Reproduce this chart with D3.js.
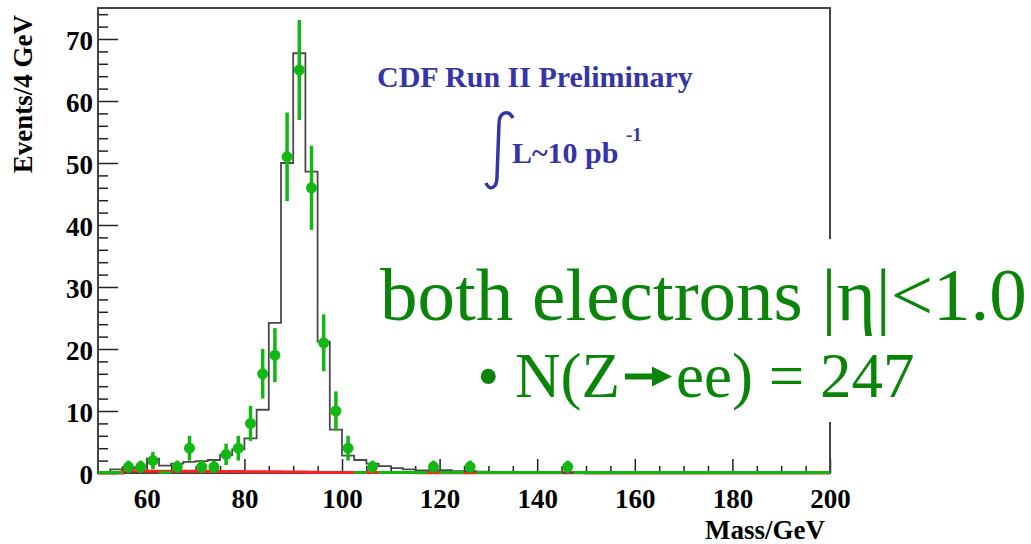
<!DOCTYPE html>
<html>
<head>
<meta charset="utf-8">
<script src="https://cdn.jsdelivr.net/npm/d3@7"></script>
<style>
  body { margin: 0; background: #fff; }
  svg { display: block; }
  .tick text { font-family: "Liberation Serif", "DejaVu Serif", serif; font-weight: bold; font-size: 27px; fill: #000; }
</style>
</head>
<body>
<div id="chart"></div>
<script>
// 2.5 GeV bins from 50 to 200
var binLow = 50, binHigh = 200, binWidth = 2.5;

// data counts per bin (green points)
var dataCounts = [0, 0, 1, 1, 2, 0, 1, 4, 1, 1,
                  3, 4, 8, 16, 19, 51, 65, 46, 21, 10,
                  4, 0, 1, 0, 0, 0, 0, 1, 0, 0,
                  1, 0, 0, 0, 0, 0, 0, 0, 1, 0,
                  0, 0, 0, 0, 0, 0, 0, 0, 0, 0,
                  0, 0, 0, 0, 0, 0, 0, 0, 0, 0];

// simulation (black step histogram)
var mcCounts = [0, 0.6, 0.8, 0.9, 2.3, 1.2, 1.5, 1.8, 1.9, 2.1,
                2.9, 3.8, 5.6, 10.2, 24.2, 50, 67.7, 48.6, 21.2, 7.0,
                2.8, 2.1, 1.5, 1.1, 0.8, 0.6, 0.4, 0.4, 0.45, 0.3,
                0.3, 0.2, 0.15, 0.12, 0.1, 0.1, 0.1, 0.08, 0.08, 0.07,
                0.06, 0.05, 0.05, 0.05, 0.04, 0.04, 0.04, 0.03, 0.03, 0.03,
                0.03, 0.02, 0.02, 0.02, 0.02, 0.02, 0.01, 0.01, 0.01, 0.01];

// background (red)
var bgCounts = [0, 0, 0.35, 0.35, 0.3, 0.3, 0.3, 0.3, 0.28, 0.26,
                0.25, 0.25, 0.22, 0.2, 0.2, 0.18, 0.15, 0.12, 0.1, 0.1,
                0.1, 0.1, 0.08, 0.08, 0.07, 0.07, 0.06, 0.06, 0.06, 0.05,
                0.05, 0.05, 0.05, 0.05, 0.04, 0.04, 0.04, 0.04, 0.04, 0.03,
                0, 0, 0, 0, 0, 0, 0, 0, 0, 0,
                0, 0, 0, 0, 0, 0, 0, 0, 0, 0];

var xMajor = [60, 80, 100, 120, 140, 160, 180, 200];
var yMajor = [0, 10, 20, 30, 40, 50, 60, 70];

var width = 1031, height = 544;
var padL = 98, padT = 8, padR = 830, padB = 473;   // frame corners

var edges = d3.range(binLow, binHigh, binWidth);

var x = d3.scaleLinear().domain([binLow, binHigh]).range([padL, padR]);
var y = d3.scaleLinear().domain([0, 75]).range([padB, padT]);

var svg = d3.select("#chart").append("svg")
    .attr("width", width)
    .attr("height", height);

var serif = "Liberation Serif, DejaVu Serif, serif";

// minor ticks first
var xMinor = d3.range(55, 200, 5).filter(function(v) { return v % 20 != 0; });
var yMinor = d3.range(2, 75, 2).filter(function(v) { return v % 10 != 0; });

svg.append("g")
    .attr("transform", "translate(0," + padB + ")")
    .call(d3.axisBottom(x).tickValues(xMinor).tickSizeInner(-7).tickSizeOuter(0).tickFormat(""))
    .call(function(g) { g.select(".domain").remove(); });

svg.append("g")
    .attr("transform", "translate(" + padL + ",0)")
    .call(d3.axisLeft(y).tickValues(yMinor).tickSizeInner(-10).tickSizeOuter(0).tickFormat(""))
    .call(function(g) { g.select(".domain").remove(); });

var xAxis = svg.append("g")
    .attr("transform", "translate(0," + padB + ")")
    .call(d3.axisBottom(x).tickValues(xMajor).tickSizeInner(-14).tickSizeOuter(0).tickPadding(16));
xAxis.select(".domain").remove();

var yAxis = svg.append("g")
    .attr("transform", "translate(" + padL + ",0)")
    .call(d3.axisLeft(y).tickValues(yMajor).tickSizeInner(-20).tickSizeOuter(0).tickPadding(5));
yAxis.select(".domain").remove();
yAxis.selectAll("text").attr("dy", "0.38em");

svg.selectAll(".tick line").attr("stroke", "#222").attr("stroke-width", 1.5);

// frame
svg.append("rect")
    .attr("x", padL).attr("y", padT)
    .attr("width", padR - padL).attr("height", padB - padT)
    .attr("fill", "none")
    .attr("stroke", "#444")
    .attr("stroke-width", 2);

// step histograms
function stepPoints(vals) {
    var pts = vals.map(function(v, i) { return [edges[i], v]; });
    pts.push([binHigh, vals[vals.length - 1]]);
    return pts;
}
var step = d3.line()
    .x(function(d) { return x(d[0]); })
    .y(function(d) { return y(d[1]); })
    .curve(d3.curveStepAfter);

svg.append("path")
    .attr("d", step(stepPoints(bgCounts)))
    .attr("fill", "none")
    .attr("stroke", "#ff2020")
    .attr("stroke-width", 3);

svg.append("path")
    .attr("d", step([[binLow, 0]].concat(stepPoints(mcCounts))))
    .attr("fill", "none")
    .attr("stroke", "#4a4a4a")
    .attr("stroke-width", 1.8);

// data points
var green = "#12b812";
var pts = dataCounts.map(function(c, i) { return { lo: edges[i], c: c }; });

svg.selectAll(".zero")
    .data(pts.filter(function(d) { return d.c == 0; }))
    .enter().append("line")
    .attr("class", "zero")
    .attr("x1", function(d) { return x(d.lo); })
    .attr("x2", function(d) { return x(d.lo + binWidth); })
    .attr("y1", y(0) - 0.5).attr("y2", y(0) - 0.5)
    .attr("stroke", green)
    .attr("stroke-width", 3);

var filled = pts.filter(function(d) { return d.c > 0; });

svg.selectAll(".err")
    .data(filled)
    .enter().append("line")
    .attr("class", "err")
    .attr("x1", function(d) { return x(d.lo + binWidth / 2); })
    .attr("x2", function(d) { return x(d.lo + binWidth / 2); })
    .attr("y1", function(d) { return y(d.c - Math.sqrt(d.c)); })
    .attr("y2", function(d) { return y(d.c + Math.sqrt(d.c)); })
    .attr("stroke", green)
    .attr("stroke-width", 3.5);

svg.selectAll(".pt")
    .data(filled)
    .enter().append("circle")
    .attr("class", "pt")
    .attr("cx", function(d) { return x(d.lo + binWidth / 2); })
    .attr("cy", function(d) { return y(d.c); })
    .attr("r", 5.5)
    .attr("fill", green);

// axis titles
svg.append("text")
    .attr("transform", "translate(32,15) rotate(-90)")
    .attr("text-anchor", "end")
    .attr("font-family", serif).attr("font-weight", "bold").attr("font-size", 27)
    .text("Events/4 GeV");

svg.append("text")
    .attr("x", 825).attr("y", 539)
    .attr("text-anchor", "end")
    .attr("font-family", serif).attr("font-weight", "bold").attr("font-size", 27)
    .text("Mass/GeV");

// CDF label
var blue = "#3535a8";
svg.append("text")
    .attr("x", 377).attr("y", 87)
    .attr("fill", blue)
    .attr("font-family", serif).attr("font-weight", "bold").attr("font-size", 30)
    .text("CDF Run II Preliminary");

svg.append("path")
    .attr("d", "M513,118 C508,109 499,112 499,124 L497,177 C497,189 489,191 486,183")
    .attr("fill", "none")
    .attr("stroke", blue)
    .attr("stroke-width", 3.5);

svg.append("text")
    .attr("x", 512).attr("y", 163)
    .attr("fill", blue)
    .attr("font-family", serif).attr("font-weight", "bold").attr("font-size", 30)
    .text("L~10 pb");

svg.append("text")
    .attr("x", 626).attr("y", 141)
    .attr("fill", blue)
    .attr("font-family", serif).attr("font-weight", "bold").attr("font-size", 19)
    .text("-1");

// big annotation on white box
svg.append("rect")
    .attr("x", 372).attr("y", 239)
    .attr("width", width - 372).attr("height", 183)
    .attr("fill", "#fff");

var dark = "#0a850a";
svg.append("text")
    .attr("x", 380).attr("y", 320)
    .attr("fill", dark)
    .attr("font-family", serif).attr("font-size", 75)
    .text("both electrons |η|<1.0");

svg.append("text")
    .attr("x", 620).attr("y", 397)
    .attr("text-anchor", "end")
    .attr("fill", dark)
    .attr("font-family", serif).attr("font-size", 63)
    .text("• N(Z");

// arrow
svg.append("path")
    .attr("d", "M625,373.5 L652,373.5 L652,366.5 L672,376.5 L652,386.5 L652,379.5 L625,379.5 Z")
    .attr("fill", dark);

svg.append("text")
    .attr("x", 676).attr("y", 397)
    .attr("fill", dark)
    .attr("font-family", serif).attr("font-size", 63)
    .text("ee) = 247");
</script>
</body>
</html>
